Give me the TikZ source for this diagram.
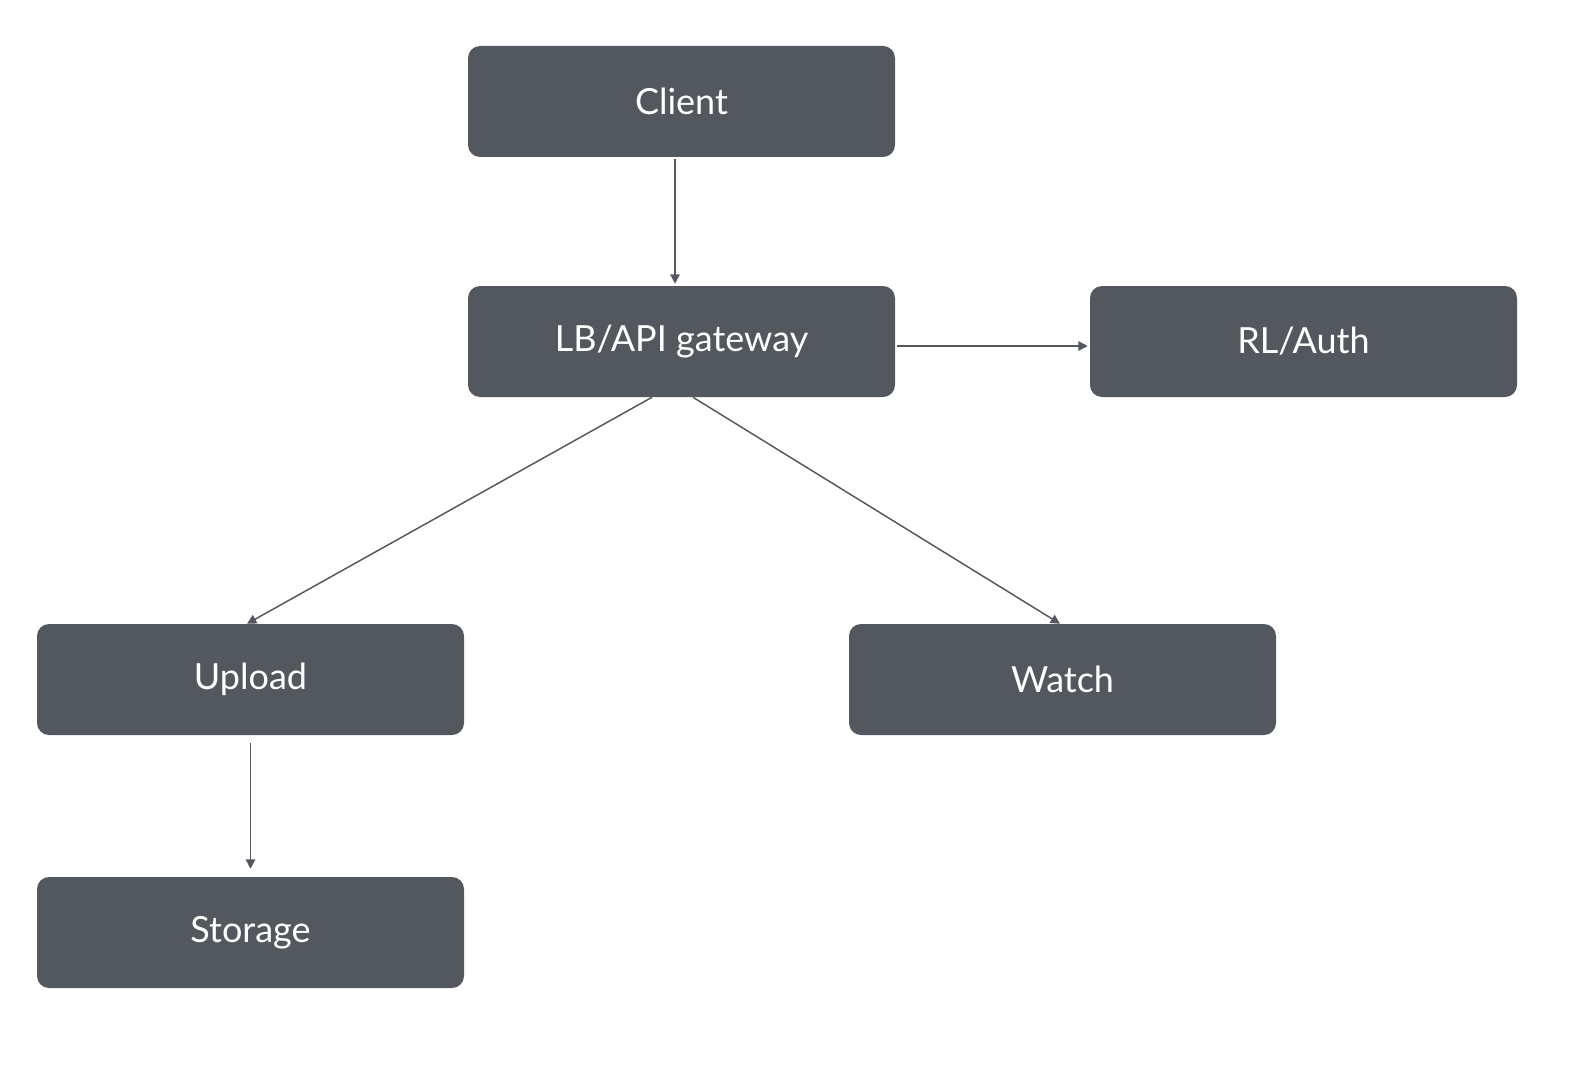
\documentclass[tikz,border=0pt]{standalone}
\usepackage{fontspec}
\setmainfont{Lato}
\usetikzlibrary{arrows.meta,calc}
\definecolor{boxgrey}{HTML}{53575E}
\begin{document}
\begin{tikzpicture}[x=0.75pt,y=-0.75pt,
  svc/.style={draw=none,fill=boxgrey,rounded corners=9pt,minimum width=320.25pt,minimum height=83.25pt,text=white,font=\fontsize{27}{31}\selectfont,inner sep=0pt},
  conn/.style={draw=boxgrey,line width=1.1pt,-{Triangle[length=7pt,width=7pt]}}]
\useasboundingbox (0,0) rectangle (1594,1070);
\node[svc] (client) at (681.5,101.5) {Client};
\node[svc] (lb) at (681.5,341.5) {LB/API gateway};
\node[svc] (rl) at (1303.5,341.5) {RL/Auth};
\node[svc] (upload) at (250.5,679.5) {Upload};
\node[svc] (watch) at (1062.5,679.5) {Watch};
\node[svc] (storage) at (250.5,932.5) {Storage};
\draw[conn] ($(client.south)+(-6.5,2)$) -- ($(lb.north)+(-6.5,-2)$);
\draw[conn] ($(lb.east)+(2,4.5)$) -- ($(rl.west)+(-2,4.5)$);
\draw[conn] ($(lb.south)+(-29.5,0)$) -- ($(upload.north)+(-3.5,0)$);
\draw[conn] ($(lb.south)+(11.5,0)$) -- ($(watch.north)+(-2.5,0)$);
\draw[conn] ($(upload.south)+(0,8)$) -- ($(storage.north)+(0,-8)$);
\end{tikzpicture}
\end{document}
